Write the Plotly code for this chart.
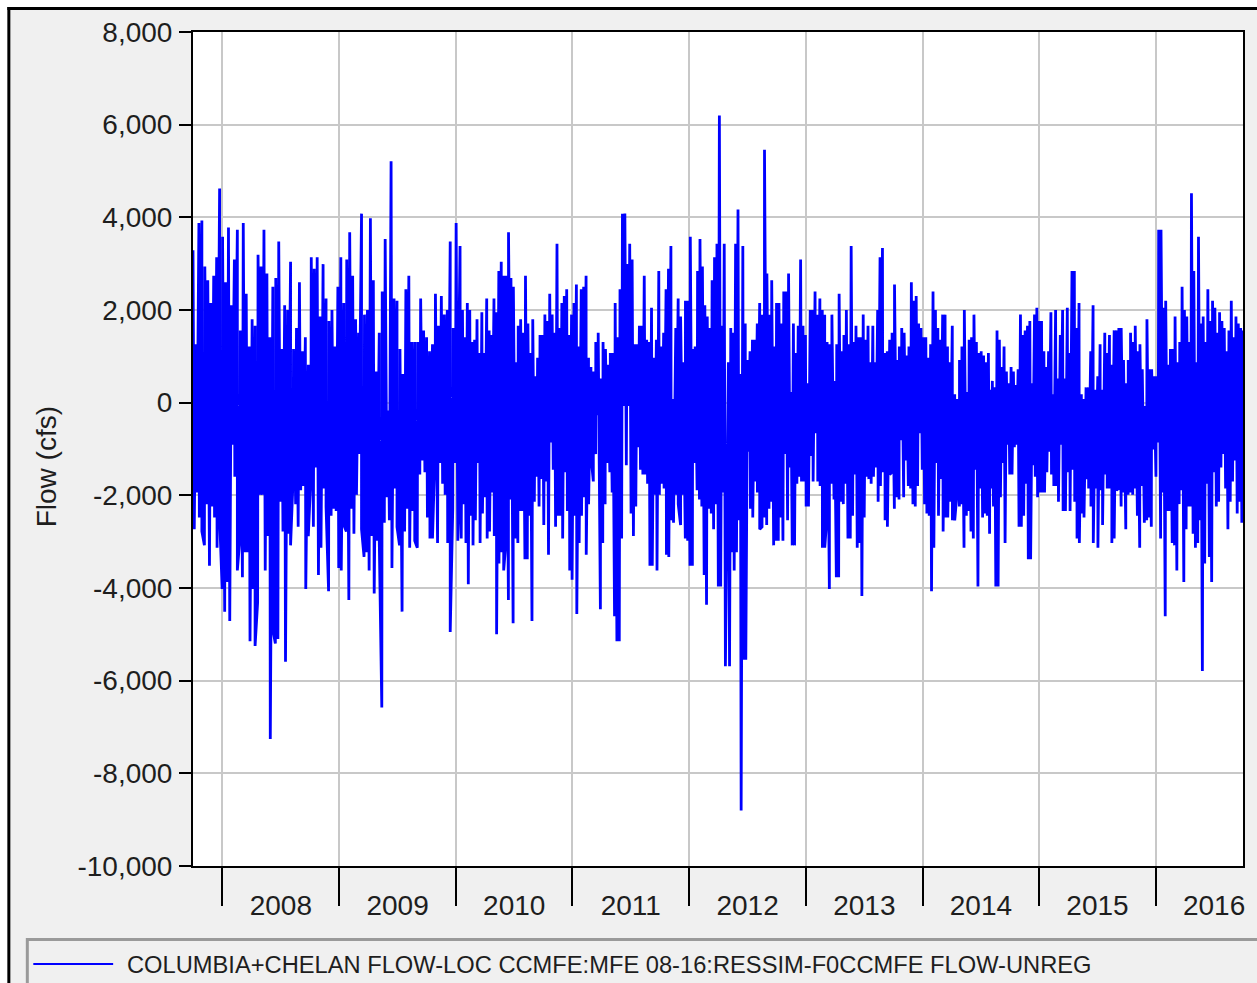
import numpy as np
import pandas as pd
import plotly.graph_objects as go

# ---------------- data (cfs) ----------------
SERIES_NAME = "COLUMBIA+CHELAN FLOW-LOC CCMFE:MFE 08-16:RESSIM-F0CCMFE FLOW-UNREG"

seg_a_span = ("2007-10-01", "2010-01-11")
seg_a_high = [3290,1260,3880,3930,2940,2640,2150,2740,3140,4620,3580,2600,3780,2100,3090,3730,1560,3880,2350,1210,
              1800,1660,3190,2940,3730,2790,1410,2500,2690,3480,1160,2100,2000,3040,1160,1610,2600,1110,1410,820,
              3140,2890,3140,1860,2990,2250,1760,2000,1210,2500,3140,2150,3090,3680,2740,1800,1510,4080,1900,2000,
              3980,2640,670,1510,2400,3530,-170,5210,2250,2200,1160,620,2450,2740,1310,1310,1310,2250,1560,1410,
              1110,1260,2350,1660,2300,1900,2000,3480,1610,3880,1660]
seg_a_low = [-2730,-1940,-2480,-2780,-3080,-2190,-3520,-2240,-2480,-3130,-2480,-4020,-4510,-3870,-4710,-910,-1600,-3620,
             -2930,-3770,-3230,-3230,-5150,-4020,-5250,-4310,-1990,-1990,-3620,-2880,-7260,-4900,-5200,-5100,-2140,-2780,
             -5590,-2830,-3080,-1650,-2190,-2680,-1890,-1800,-4020,-2880,-1600,-2680,-1400,-3720,-3130,-1850,-2240,-4070,
             -2440,-2290,-2340,-3570,-3620,-2640,-2780,-4260,-2290,-2830,-1990,-1110,-2730,-3330,-3230,-3620,-2880,-4120,
             -2980,-2980,-6580,-2590,-2040,-2540,-3570,-1850,-2680,-3080,-4510,-2780,-2290,-3130,-2340,-2980,-3130,-1550,
             -1250,-1500,-2480,-2930,-2930,-1060,-3030,-1300,-1750,-1990,-3030,-4950,-2290,-1300,-2980,-2340]

seg_b_span = ("2010-01-14", "2012-04-20")
seg_b_high = [3380,2000,1410,2150,2000,1310,1360,1800,1070,1950,1070,2250,1560,1460,2250,1950,2840,3040,2740,2740,
              3680,2690,2500,870,1660,1800,1510,2740,1710,1070,1800,570,970,1460,1460,1900,1760,2350,1900,1510,
              3430,1610,2150,2300,2450,1460,1900,2150,2550,1210,2450,2500,2740,970,770,670,1310,1510,520,1310,
              1160,820,1070,1070,2150,1410,2450,4080,4080,2990,3430,3090,1260,1260,1660,1660,2740,1360,1310,2050,
              970,1360,2840,1210,1510,2450,2890,3380,80,1610,2250,1860,870,2200,2200,3580,1160,1210,2840,3530,
              2940,2100,1860,1610,2640,3140,3430,6200,1660,3430]
seg_b_low = [-2930,-2190,-3030,-3920,-2440,-3080,-2540,-1300,-3030,-2390,-2040,-2930,-2780,-1940,-2880,-5000,-3470,-3230,
             -3620,-2980,-4260,-2090,-4760,-2930,-3030,-2340,-2340,-3380,-3380,-2440,-4710,-2140,-1600,-2240,-1650,-2640,
             -1700,-3280,-860,-1450,-2680,-2440,-2440,-2930,-1500,-2340,-3620,-3820,-2440,-4560,-3030,-2440,-2040,-3280,
             -2190,-1150,-1700,-1110,-270,-4460,-3030,-2190,-1300,-1500,-1940,-4610,-5150,-5150,-2930,-70,-1350,-70,
             -2390,-2880,-2240,-960,-1450,-1550,-1550,-1750,-3520,-3520,-1990,-3620,-1990,-1750,-1850,-3280,-3330,-2540,
             -2590,-1990,-2190,-2640,-1990,-2930,-2980,-3520,-3520,-1300,-1890,-2090,-2240,-3720,-4360,-2290,-2390,-2730,
             -2190,-3970,-3970,-1940,-5690]

seg_c_span = ("2012-05-03", "2014-07-26")
seg_c_high = [870,1610,1510,3430,4170,620,3380,1710,920,1110,1360,1360,1710,2150,1900,5460,2790,1900,2640,1210,
              2150,2150,1710,2400,2400,2790,230,1710,1070,1660,3090,1660,1460,420,2000,2000,2400,1900,2250,2000,
              1900,1310,1260,1900,470,1260,2350,1110,1460,2000,1260,3380,1310,1660,1410,1410,1900,1360,1660,870,
              1660,870,2000,3140,3340,1070,1110,1360,1510,2550,920,1210,1610,1510,1020,1210,2600,2200,2300,1710,
              1610,1410,1410,970,1260,2400,2000,1610,1360,1900,1900,1210,870,1660,180,80,920,1210,2000,230,
              1360,1410,1900,1310,1070,1110,1020,870,1070]
seg_c_low = [-5690,-3230,-3620,-3230,-2540,-8800,-5550,-5550,-1060,-2290,-2480,-1700,-1940,-2730,-2680,-2480,-2640,-2290,
             -2140,-3080,-2980,-2980,-2480,-2980,-1110,-2540,-1400,-3080,-3080,-1750,-1600,-1700,-1700,-2240,-2240,-1150,
             -1700,-660,-1700,-1800,-3130,-3130,-2440,-4020,-1750,-2090,-3770,-3770,-2140,-2190,-1750,-2930,-2930,-2440,
             -1550,-3130,-3030,-4170,-2480,-1600,-1650,-1750,-1600,-1400,-2140,-1800,-1500,-2540,-2680,-1550,-1500,-2290,
             -2040,-2090,-810,-2040,-1250,-1800,-1850,-2190,-2240,-1800,-660,-1450,-2190,-2390,-2440,-4070,-3130,-1300,
             -2440,-1650,-2780,-2480,-2480,-2140,-2540,-2540,-1940,-2240,-2190,-3130,-2440,-2340,-2780,-2930,-1450,-3970,
             -1850,-2480,-2390,-2440,-2830]

seg_d_span = ("2014-07-31", "2016-09-30")
seg_d_high = [280,470,330,1560,1360,770,1210,670,420,770,670,380,720,1900,1460,1560,1660,1760,420,1900,
              2050,1760,1760,1110,770,1110,1950,180,2000,520,1460,2000,520,2050,1070,2840,2840,1610,2150,180,
              80,330,330,1110,2100,280,570,1260,280,1510,1070,1460,820,1560,1560,1610,1610,920,420,920,
              1510,1310,1660,1110,1260,720,-70,1800,720,720,570,570,3730,3730,2050,2200,820,1160,1160,1860,
              870,1310,2500,2000,1860,1310,4520,2840,870,3580,1710,1860,1310,2450,1760,2200,2050,1510,1950,1760,
              1610,1110,1560,2200,1410,1860,1710,1610,1560]
seg_d_low = [-1850,-2240,-3970,-3970,-2040,-1300,-3030,-910,-1550,-1550,-960,-910,-2680,-2680,-2440,-1750,-3380,-3380,
             -1350,-1600,-2040,-1940,-1940,-1940,-1500,-1060,-1550,-1800,-1800,-2140,-910,-2340,-2340,-1500,-2340,-1450,
             -2140,-2930,-3030,-2390,-2480,-1650,-1850,-2240,-3030,-1850,-3130,-1890,-2640,-1550,-1850,-1850,-3030,-2930,
             -1890,-1850,-2240,-1940,-2730,-1990,-1940,-1990,-1850,-2440,-3130,-1800,-2590,-2540,-2480,-2680,-1010,-1600,
             -860,-2930,-1940,-4610,-2340,-2340,-3030,-3080,-3620,-2190,-1890,-3870,-2730,-2240,-2240,-2830,-3130,-3030,
             -2540,-5790,-3470,-1750,-3330,-3870,-1500,-2240,-2140,-1400,-1110,-1850,-2730,-2140,-1700,-1250,-2390,-2140,
             -2590,-1940]

y_tick_vals = [-10000, -8000, -6000, -4000, -2000, 0, 2000, 4000, 6000, 8000]
y_tick_text = ["-10,000", "-8,000", "-6,000", "-4,000", "-2,000", "0", "2,000", "4,000", "6,000", "8,000"]
x_range = ["2007-10-01", "2016-09-30"]
y_range = [-10000, 8000]

# ---------------- build the series ----------------
segments = [
    (seg_a_span, seg_a_high, seg_a_low),
    (seg_b_span, seg_b_high, seg_b_low),
    (seg_c_span, seg_c_high, seg_c_low),
    (seg_d_span, seg_d_high, seg_d_low),
]
parts = []
for (start, end), hi, lo in segments:
    t0, t1 = pd.Timestamp(start).value, pd.Timestamp(end).value
    dh = pd.to_datetime(np.linspace(t0, t1, len(hi)).astype("int64"))
    half = (t1 - t0) / (len(lo) - 1) / 2.0
    dl = pd.to_datetime((np.linspace(t0, t1, len(lo)) + half).astype("int64"))
    parts.append(pd.DataFrame({"date": dh, "flow": hi}))
    parts.append(pd.DataFrame({"date": dl, "flow": lo}))
df = pd.concat(parts).sort_values("date", kind="stable").reset_index(drop=True)

# ---------------- figure ----------------
W, H = 1257, 983
PL, PR, PT, PB = 193, 12, 32, 117
pw, ph = W - PL - PR, H - PT - PB


def px_x(p):
    return (p - PL) / pw


def px_y(p):
    return (H - PB - p) / ph


FONT = "Liberation Sans, Arial, Helvetica, sans-serif"
TXT = "#1e1e1e"

fig = go.Figure()
fig.add_trace(go.Scatter(
    x=df["date"], y=df["flow"], mode="lines", name=SERIES_NAME,
    line=dict(color="#0000ff", width=2.8, simplify=False), showlegend=False,
))

fig.update_layout(
    width=W, height=H,
    margin=dict(l=PL, r=PR, t=PT, b=PB, pad=0),
    paper_bgcolor="#f0f0f0", plot_bgcolor="#ffffff",
    font=dict(family=FONT, size=28, color=TXT),
    showlegend=False,
)
fig.update_xaxes(
    type="date", range=x_range,
    tick0="2008-01-01", dtick="M12", tickformat="%Y", ticklabelmode="period",
    ticks="outside", ticklen=38, tickwidth=2, tickcolor="#000000",
    ticklabelstandoff=-25,
    showgrid=True, gridcolor="#c8c8c8", gridwidth=2,
    showline=True, linecolor="#000000", linewidth=2, mirror=True,
    tickfont=dict(size=28, color=TXT), zeroline=False,
)
fig.update_yaxes(
    range=y_range, tickmode="array", tickvals=y_tick_vals, ticktext=y_tick_text,
    ticks="outside", ticklen=12, tickwidth=2, tickcolor="#000000",
    ticklabelstandoff=1,
    showgrid=True, gridcolor="#c8c8c8", gridwidth=2,
    showline=True, linecolor="#000000", linewidth=2, mirror=True,
    zeroline=False, tickfont=dict(size=28, color=TXT),
)

shapes = []
# white page margin outside the window frame
shapes.append(dict(type="rect", xref="paper", yref="paper",
                   x0=px_x(-5), x1=px_x(W + 5), y0=px_y(7), y1=px_y(-5),
                   fillcolor="#ffffff", line=dict(width=0), layer="above"))
shapes.append(dict(type="rect", xref="paper", yref="paper",
                   x0=px_x(-5), x1=px_x(7), y0=px_y(H + 5), y1=px_y(-5),
                   fillcolor="#ffffff", line=dict(width=0), layer="above"))
# black window frame (top and left)
shapes.append(dict(type="line", xref="paper", yref="paper",
                   x0=px_x(7), x1=px_x(W + 5), y0=px_y(8.5), y1=px_y(8.5),
                   line=dict(color="#000000", width=3)))
shapes.append(dict(type="line", xref="paper", yref="paper",
                   x0=px_x(8.5), x1=px_x(8.5), y0=px_y(7), y1=px_y(H + 5),
                   line=dict(color="#000000", width=3)))
# legend panel
shapes.append(dict(type="rect", xref="paper", yref="paper",
                   x0=px_x(27), x1=px_x(W + 20), y0=px_y(H + 20), y1=px_y(939.5),
                   fillcolor="rgba(0,0,0,0)", line=dict(color="#9a9a9a", width=3)))
# legend sample line
shapes.append(dict(type="line", xref="paper", yref="paper",
                   x0=px_x(33), x1=px_x(113), y0=px_y(964), y1=px_y(964),
                   line=dict(color="#0000ff", width=2)))
fig.update_layout(shapes=shapes)

fig.add_annotation(
    text=SERIES_NAME, xref="paper", yref="paper",
    x=px_x(125), y=px_y(965), xanchor="left", yanchor="middle",
    showarrow=False, font=dict(family=FONT, size=23.7, color=TXT),
)
fig.add_annotation(
    text="Flow (cfs)", xref="paper", yref="paper",
    x=px_x(46), y=px_y(467), xanchor="center", yanchor="middle",
    textangle=-90, showarrow=False, font=dict(family=FONT, size=28, color=TXT),
)

fig.write_html(
    "out.html",
    config={"displayModeBar": False},
    post_script="document.body.style.margin='0';document.body.style.overflow='hidden';",
)
